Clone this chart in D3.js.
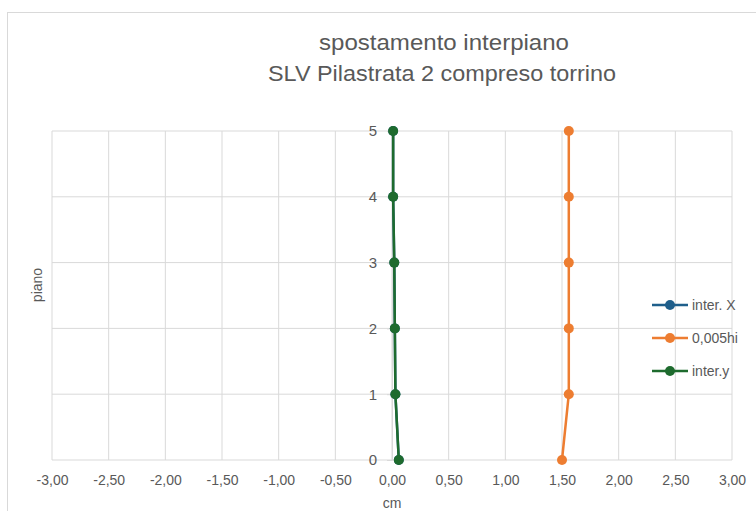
<!DOCTYPE html>
<html>
<head>
<meta charset="utf-8">
<script src="https://cdn.jsdelivr.net/npm/d3@7"></script>
<style>
  body { margin: 0; background: #fff; }
  svg text { font-family: "Liberation Sans", "DejaVu Sans", sans-serif; fill: #595959; }
</style>
</head>
<body>
<svg id="chart" width="756" height="511"></svg>
<script>
// Floors (piano) and interstorey drift per series, in cm
const floors = [0, 1, 2, 3, 4, 5];
const interX = [0.06, 0.03, 0.025, 0.02, 0.01, 0.01];
const limit005hi = [1.50, 1.56, 1.56, 1.56, 1.56, 1.56];
const interY = [0.06, 0.03, 0.025, 0.02, 0.01, 0.01];
const seriesNames = ["inter. X", "0,005hi", "inter.y"];
const seriesColors = ["#1f5f8b", "#ed7d31", "#1e6b2e"];
const xTicks = [-3, -2.5, -2, -1.5, -1, -0.5, 0, 0.5, 1, 1.5, 2, 2.5, 3];
const yTicks = [0, 1, 2, 3, 4, 5];

const svg = d3.select("#chart");

// chart frame
svg.append("rect").attr("x", 7.5).attr("y", 12.5).attr("width", 760).attr("height", 520)
  .attr("fill", "none").attr("stroke", "#d9d9d9");

const x = d3.scaleLinear().domain([-3, 3]).range([52, 732]);
const y = d3.scaleLinear().domain([0, 5]).range([460, 131]);

// gridlines
svg.append("g").selectAll("line").data(xTicks).join("line")
  .attr("x1", d => x(d)).attr("x2", d => x(d)).attr("y1", y(5)).attr("y2", y(0))
  .attr("stroke", "#d9d9d9").attr("stroke-width", 1);
svg.append("g").selectAll("line").data(yTicks).join("line")
  .attr("x1", x(-3)).attr("x2", x(3)).attr("y1", d => y(d)).attr("y2", d => y(d))
  .attr("stroke", "#d9d9d9").attr("stroke-width", 1);

// x axis labels below the plot
const fmt = d => d.toFixed(2).replace(".", ",");
const xAxis = d3.axisBottom(x).tickValues(xTicks).tickFormat(fmt).tickSize(0).tickPadding(15);
const gx = svg.append("g").attr("transform", `translate(0,${y(0)})`).call(xAxis);
gx.select(".domain").remove();
gx.selectAll("text").attr("font-size", 14).attr("fill", "#595959")
  .style("font-family", "'Liberation Sans',sans-serif");

// y axis drawn at x = 0
const yAxis = d3.axisLeft(y).tickValues(yTicks).tickFormat(d3.format("d")).tickSize(5).tickPadding(10);
const gy = svg.append("g").attr("transform", `translate(${x(0)},0)`).call(yAxis);
gy.select(".domain").attr("stroke", "#d9d9d9");
gy.selectAll(".tick line").attr("stroke", "#d9d9d9");
gy.selectAll("text").attr("font-size", 15).attr("fill", "#595959")
  .style("font-family", "'Liberation Sans',sans-serif");

// series
const allSeries = [interX, limit005hi, interY];
const line = d3.line().x(d => x(d[0])).y(d => y(d[1]));
allSeries.forEach((vals, i) => {
  const pts = vals.map((v, k) => [v, floors[k]]);
  const g = svg.append("g");
  g.append("path").datum(pts).attr("d", line).attr("fill", "none")
    .attr("stroke", seriesColors[i]).attr("stroke-width", 2.5);
  g.selectAll("circle").data(pts).join("circle")
    .attr("cx", d => x(d[0])).attr("cy", d => y(d[1])).attr("r", 5)
    .attr("fill", seriesColors[i]);
});

// titles
svg.append("text").attr("x", 444).attr("y", 50).attr("text-anchor", "middle")
  .attr("font-size", 22).attr("textLength", 250).attr("lengthAdjust", "spacingAndGlyphs")
  .text("spostamento interpiano");
svg.append("text").attr("x", 442).attr("y", 81).attr("text-anchor", "middle")
  .attr("font-size", 22).attr("textLength", 348).attr("lengthAdjust", "spacingAndGlyphs")
  .text("SLV Pilastrata 2 compreso torrino");
svg.append("text").attr("x", 392).attr("y", 508).attr("text-anchor", "middle")
  .attr("font-size", 14).text("cm");
svg.append("text").attr("transform", "translate(42,285) rotate(-90)").attr("text-anchor", "middle")
  .attr("font-size", 14).text("piano");

// legend
const legend = svg.append("g");
seriesNames.forEach((name, i) => {
  const ly = 305 + i * 33;
  legend.append("line").attr("x1", 652).attr("x2", 688).attr("y1", ly).attr("y2", ly)
    .attr("stroke", seriesColors[i]).attr("stroke-width", 2.5);
  legend.append("circle").attr("cx", 670).attr("cy", ly).attr("r", 5).attr("fill", seriesColors[i]);
  legend.append("text").attr("x", 692).attr("y", ly + 5).attr("font-size", 14).text(name);
});
</script>
</body>
</html>
